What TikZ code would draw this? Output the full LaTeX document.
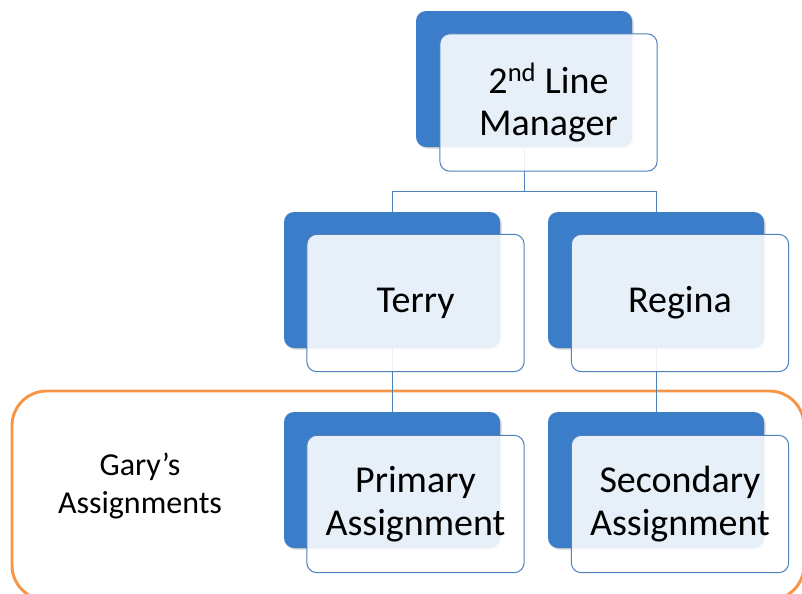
\documentclass[tikz,border=0pt]{standalone}
\usepackage{fontspec}
\setmainfont{Carlito}
\usetikzlibrary{backgrounds,shadows}

\definecolor{boxblue}{HTML}{3C7DCA}
\definecolor{lineblue}{HTML}{4F81BD}
\definecolor{grouporange}{HTML}{F79646}

\tikzset{
	backbox/.style={rectangle, rounded corners=7.5pt, fill=boxblue, minimum width=162pt, minimum height=102pt, inner sep=0pt,
		drop shadow={shadow xshift=1.2pt, shadow yshift=-1.2pt, opacity=0.35}},
	frontbox/.style={rectangle, rounded corners=7.5pt, draw=lineblue, line width=0.75pt, fill=white, fill opacity=0.88, text opacity=1,
		minimum width=163pt, minimum height=103pt, inner sep=0pt, align=center, font=\fontsize{28.5}{32}\selectfont},
	conn/.style={draw=lineblue, line width=0.75pt},
	group/.style={draw=grouporange, line width=2.2pt, rounded corners=26pt}
}

\begin{document}
\begin{tikzpicture}[x=0.75pt, y=-0.75pt]
	\useasboundingbox (0,0) rectangle (802,593);

	% boxes
	\node[backbox] (mgrB) at (524,79) {};
	\node[frontbox] (mgr) at (548.5,102.5) {2\textsuperscript{nd} Line\\Manager};

	\node[backbox] (terryB) at (392,280) {};
	\node[frontbox] (terry) at (415.5,303) {Terry};

	\node[backbox] (reginaB) at (656,280) {};
	\node[frontbox] (regina) at (680,303) {Regina};

	\node[backbox] (primB) at (392,480) {};
	\node[frontbox] (prim) at (415.5,504) {Primary\\Assignment};

	\node[backbox] (secB) at (656,480) {};
	\node[frontbox] (sec) at (680,504) {Secondary\\Assignment};

	\node[align=center, font=\fontsize{24}{28.5}\selectfont] (gary) at (140,486) {Gary’s\\Assignments};

	% group frame and connectors
	\begin{scope}[on background layer]
		\draw[group] (12,391) rectangle (804,600);
		\coordinate (fork) at (524,191);
		\draw[conn] (mgrB.south) -- (fork) -| (terryB.north);
		\draw[conn] (fork) -| (reginaB.north);
		\draw[conn] (terryB.south) -- (primB.north);
		\draw[conn] (reginaB.south) -- (secB.north);
	\end{scope}
\end{tikzpicture}
\end{document}
